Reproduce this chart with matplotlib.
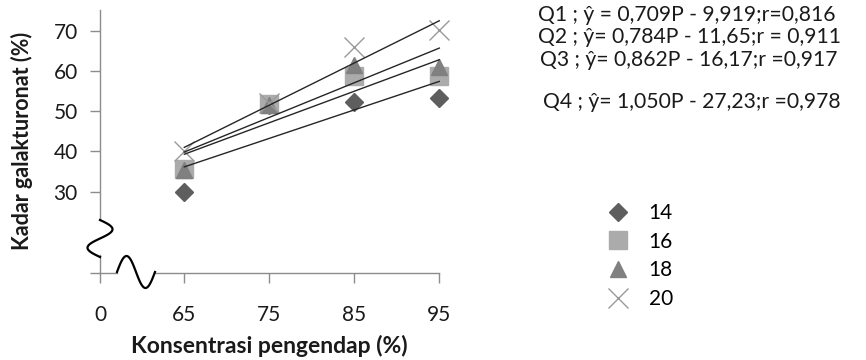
import numpy as np
import matplotlib
matplotlib.use("Agg")
import matplotlib.pyplot as plt
from matplotlib.lines import Line2D

plt.rcParams['font.family'] = ['Lato', 'DejaVu Sans']

# --- data -------------------------------------------------------------
konsentrasi = [65, 75, 85, 95]
series_labels = ['14', '16', '18', '20']
kadar_14 = [30.0, 51.6, 52.4, 53.2]
kadar_16 = [35.7, 51.8, 58.8, 58.8]
kadar_18 = [35.4, 51.6, 61.6, 61.1]
kadar_20 = [40.0, 52.0, 66.1, 70.1]

# regression lines  y = slope * P + intercept
eq_names = ['Q1', 'Q2', 'Q3', 'Q4']
slopes = [0.709, 0.784, 0.862, 1.050]
intercepts = [-9.919, -11.65, -16.17, -27.23]
eq_texts = ['Q1 ; ŷ = 0,709P - 9,919;r=0,816',
            'Q2 ; ŷ= 0,784P - 11,65;r = 0,911',
            'Q3 ; ŷ= 0,862P - 16,17;r =0,917',
            'Q4 ; ŷ= 1,050P - 27,23;r =0,978']

y_ticks = [30, 40, 50, 60, 70]
x_ticks = [65, 75, 85, 95]

# --- figure -------------------------------------------------------------
W, H = 866, 360
fig = plt.figure(figsize=(W / 100, H / 100), dpi=100)

x_lo, x_hi = 55.08, 95.0
y_lo, y_hi = 9.76, 75.2
ax = fig.add_axes([100 / W, 1 - 273 / H, (439.3 - 100) / W, (273 - 10) / H])
ax.set_xlim(x_lo, x_hi)
ax.set_ylim(y_lo, y_hi)
for s in ax.spines.values():
    s.set_visible(False)

axis_col = '#8c8c8c'
# axis lines with breaks
ax.plot([x_lo, x_lo], [y_hi, 22.9], color=axis_col, lw=1.0, clip_on=False)
ax.plot([x_lo, x_lo], [14.3, y_lo], color=axis_col, lw=1.0, clip_on=False)
ax.plot([x_lo, 57.05], [y_lo, y_lo], color=axis_col, lw=1.0, clip_on=False)
ax.plot([61.55, x_hi], [y_lo, y_lo], color=axis_col, lw=1.0, clip_on=False)

ax.set_xticks([x_lo] + x_ticks)
ax.set_xticklabels(['0'] + [str(v) for v in x_ticks])
ax.set_yticks([y_lo] + y_ticks)
ax.set_yticklabels([''] + [str(v) for v in y_ticks])
ax.tick_params(axis='both', colors=axis_col, length=7, width=1.0,
               labelsize=15, labelcolor='#1a1a1a')
ax.tick_params(axis='x', pad=16)
ax.tick_params(axis='y', pad=9)

# scatter series
styles = [
    dict(marker='D', ms=9.2, color='#5e5e5e', mec='#5e5e5e'),
    dict(marker='s', ms=13.2, color='#ababab', mec='#ababab'),
    dict(marker='^', ms=11.5, color='#808080', mec='#808080'),
    dict(marker='x', ms=14.0, color='#9a9a9a', mec='#9a9a9a', mew=1.0),
]
handles = []
for vals, st, lab in zip([kadar_14, kadar_16, kadar_18, kadar_20], styles, series_labels):
    h, = ax.plot(konsentrasi, vals, linestyle='none', clip_on=False, label=lab, **st)
    handles.append(h)

# trend lines
xs = np.array([konsentrasi[0], konsentrasi[-1]])
for m, c in zip(slopes, intercepts):
    ax.plot(xs, m * xs + c, color='#262626', lw=1.0, clip_on=False, zorder=5)


def px(x, y):
    return x / W, 1 - y / H


# axis break marks
t = np.linspace(0, 1, 80)
bx = 100 + 12.5 * np.sin(2 * np.pi * t)
by = 220 + 37 * t
fig.add_artist(Line2D(*zip(*[px(a, b) for a, b in zip(bx, by)]),
                      color='black', lw=1.6, transform=fig.transFigure))
cx = 117 + 38 * t
cy = 272 - 16 * np.sin(2 * np.pi * t)
fig.add_artist(Line2D(*zip(*[px(a, b) for a, b in zip(cx, cy)]),
                      color='black', lw=1.6, transform=fig.transFigure))

# axis titles
fig.text(*px(269, 346), 'Konsentrasi pengendap (%)', ha='center', va='center',
         fontsize=16.5, fontweight='bold', color='#1a1a1a')
fig.text(*px(22, 141), 'Kadar galakturonat (%)', ha='center', va='center',
         rotation=90, fontsize=15.5, fontweight='bold', color='#1a1a1a')

# equations
eq_pos = [(538, 15), (538, 37), (540, 60), (543, 102)]
for (x, y), txt in zip(eq_pos, eq_texts):
    fig.text(*px(x, y), txt, ha='left', va='center', fontsize=15.2, color='#1a1a1a')

# legend
fig.legend(handles=handles, loc='upper left', bbox_to_anchor=px(605, 203),
           frameon=False, fontsize=15, handlelength=1.2, handletextpad=0.9,
           labelspacing=0.42, borderaxespad=0, borderpad=0)

fig.savefig('out.png', dpi=100)
